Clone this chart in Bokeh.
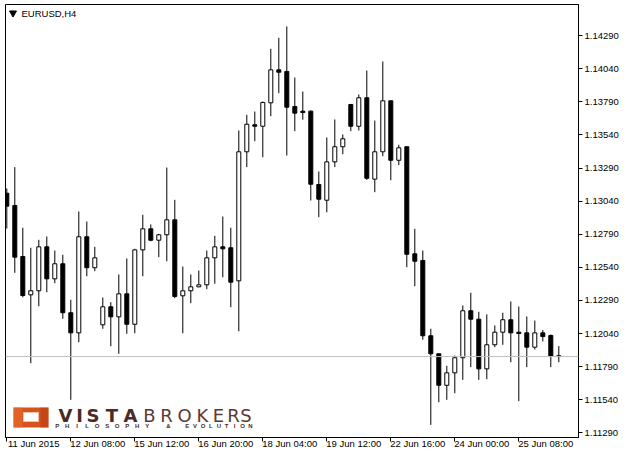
from bokeh.plotting import figure
from bokeh.models import Range1d, FixedTicker, Span, Label, PrintfTickFormatter, CustomJSTickFormatter
from bokeh.embed import file_html
from bokeh.resources import INLINE
from bokeh.core.properties import value

symbol = "EURUSD,H4"
time_label_bars = [0, 8, 16, 24, 32, 40, 48, 56, 64]
time_labels = ["11 Jun 2015", "12 Jun 08:00", "15 Jun 12:00", "16 Jun 20:00", "18 Jun 04:00",
               "19 Jun 12:00", "22 Jun 16:00", "24 Jun 00:00", "25 Jun 08:00"]
price_ticks = [1.11290, 1.11540, 1.11790, 1.12040, 1.12290, 1.12540, 1.12790,
               1.13040, 1.13290, 1.13540, 1.13790, 1.14040, 1.14290]

opens = [1.13100, 1.13007, 1.12622, 1.12332, 1.12363, 1.12695, 1.12453, 1.12567, 1.12197, 1.12045,
         1.12771, 1.12537, 1.12106, 1.12242, 1.12166, 1.12340, 1.12110, 1.12672, 1.12831, 1.12745,
         1.12786, 1.12899, 1.12325, 1.12363, 1.12393, 1.12408, 1.12612, 1.12695, 1.12688, 1.12438,
         1.13413, 1.13617, 1.13606, 1.13783, 1.14032, 1.14020, 1.13755, 1.13720, 1.13720, 1.13166,
         1.13047, 1.13337, 1.13451, 1.13770, 1.13606, 1.13821, 1.13206, 1.13413, 1.13798, 1.13349,
         1.13451, 1.12642, 1.12592, 1.12023, 1.11887, 1.11649, 1.11743, 1.11857, 1.12212, 1.12148,
         1.11773, 1.11955, 1.12050, 1.12144, 1.12050, 1.12045, 1.11937, 1.12045, 1.12025, 1.11872]
highs = [1.13136, 1.13297, 1.12839, 1.12688, 1.12748, 1.12773, 1.12667, 1.12635, 1.12295, 1.12962,
         1.12886, 1.12695, 1.12312, 1.12277, 1.12486, 1.12607, 1.12680, 1.12937, 1.12864, 1.12793,
         1.13294, 1.13050, 1.12546, 1.12486, 1.12516, 1.12667, 1.12778, 1.12924, 1.12839, 1.13574,
         1.13692, 1.13717, 1.13793, 1.14191, 1.14274, 1.14360, 1.13974, 1.13868, 1.13725, 1.13264,
         1.13521, 1.13657, 1.13544, 1.13775, 1.13846, 1.14027, 1.13649, 1.14095, 1.13798, 1.13466,
         1.13451, 1.12831, 1.12667, 1.12076, 1.11887, 1.11796, 1.11874, 1.12252, 1.12348, 1.12204,
         1.12184, 1.12101, 1.12197, 1.12282, 1.12244, 1.12169, 1.12138, 1.12067, 1.12033, 1.11945]
lows = [1.12833, 1.12499, 1.12314, 1.11816, 1.12246, 1.12352, 1.12420, 1.12151, 1.11539, 1.11974,
        1.12473, 1.12511, 1.12076, 1.11944, 1.11887, 1.12038, 1.12042, 1.12473, 1.12737, 1.12617,
        1.12586, 1.12307, 1.12042, 1.12269, 1.12390, 1.12375, 1.12416, 1.12465, 1.12239, 1.12057,
        1.13297, 1.13493, 1.13372, 1.13682, 1.13856, 1.13385, 1.13569, 1.13655, 1.13045, 1.12919,
        1.12956, 1.13297, 1.13395, 1.13569, 1.13574, 1.13201, 1.13108, 1.13380, 1.13198, 1.13312,
        1.12541, 1.12397, 1.11993, 1.11350, 1.11521, 1.11539, 1.11589, 1.11690, 1.11786, 1.11690,
        1.11695, 1.11937, 1.11955, 1.11823, 1.11529, 1.11786, 1.11919, 1.11980, 1.11786, 1.11823]
closes = [1.13002, 1.12617, 1.12327, 1.12363, 1.12695, 1.12453, 1.12567, 1.12197, 1.12045, 1.12771,
          1.12537, 1.12612, 1.12242, 1.12166, 1.12340, 1.12110, 1.12672, 1.12831, 1.12745, 1.12786,
          1.12899, 1.12320, 1.12363, 1.12393, 1.12408, 1.12612, 1.12695, 1.12680, 1.12428, 1.13413,
          1.13621, 1.13606, 1.13785, 1.14032, 1.14014, 1.13750, 1.13705, 1.13710, 1.13168, 1.13055,
          1.13337, 1.13451, 1.13511, 1.13606, 1.13821, 1.13213, 1.13413, 1.13798, 1.13349, 1.13443,
          1.12639, 1.12586, 1.12023, 1.11887, 1.11649, 1.11743, 1.11857, 1.12212, 1.12148, 1.11773,
          1.11955, 1.12050, 1.12144, 1.12045, 1.12040, 1.11937, 1.12045, 1.12017, 1.11869, 1.11866]

bars = list(range(len(opens)))
tops = [max(o, c) for o, c in zip(opens, closes)]
bottoms = [min(o, c) for o, c in zip(opens, closes)]
fills = ["white" if c > o else "black" for o, c in zip(opens, closes)]

# view window
X0, X1 = -0.1625, 71.4625
Y0, Y1 = 1.112545, 1.145257
FL, FR, FT, FB = 5, 578, 4, 437  # frame edges in canvas pixels
BAR_PX = (FR - FL) / (X1 - X0)


def px(xp):
    return X0 + (xp - FL) * (X1 - X0) / (FR - FL)


def py(yp):
    return Y1 - (yp - FT) * (Y1 - Y0) / (FB - FT)


FONT = "Liberation Sans"

p = figure(width=624, height=458, x_range=Range1d(X0, X1), y_range=Range1d(Y0, Y1),
           y_axis_location="right", output_backend="svg", toolbar_location=None,
           min_border_left=FL, min_border_top=FT, min_border_right=624 - FR, min_border_bottom=458 - FB)
p.background_fill_color = "white"
p.border_fill_color = "white"
p.outline_line_color = "black"
p.outline_line_width = 1
p.grid.visible = False

# x axis: tick marks as minor ticks at the labelled bars, labels shifted so they start at the tick
half_label = 27.0 / BAR_PX
p.xaxis.ticker = FixedTicker(ticks=[b + half_label for b in time_label_bars], minor_ticks=time_label_bars)
p.xaxis.formatter = CustomJSTickFormatter(args=dict(labels=time_labels), code="return labels[index];")
p.xaxis.major_tick_line_color = None
p.xaxis.major_tick_out = 0
p.xaxis.major_tick_in = 0
p.xaxis.minor_tick_line_color = "black"
p.xaxis.minor_tick_out = 4
p.xaxis.minor_tick_in = 0
p.xaxis.major_label_standoff = -4
p.xaxis.major_label_text_font = FONT
p.xaxis.major_label_text_font_size = "9.5px"
p.xaxis.major_label_text_color = "black"
p.xaxis.axis_line_color = "black"

# y axis
p.yaxis.ticker = FixedTicker(ticks=price_ticks)
p.yaxis.formatter = PrintfTickFormatter(format="%.5f")
p.yaxis.major_tick_out = 4
p.yaxis.major_tick_in = 0
p.yaxis.minor_tick_line_color = None
p.yaxis.major_label_standoff = 2
p.yaxis.major_label_text_font = FONT
p.yaxis.major_label_text_font_size = "9.5px"
p.yaxis.major_label_text_color = "black"
p.yaxis.axis_line_color = "black"
p.yaxis.major_tick_line_color = "black"

# current price line
p.add_layout(Span(location=closes[-1], dimension="width", line_color="#c0c0c0", line_width=1))

# logo (decoration)
p.quad(left=px(13), right=px(48), top=py(407), bottom=py(427), fill_color="#d6531e", line_color=None)
p.quad(left=px(13), right=px(22), top=py(407), bottom=py(427), fill_color="#ea6a2c", line_color=None, fill_alpha=0.6)
p.quad(left=px(40), right=px(48), top=py(407), bottom=py(427), fill_color="#b63a14", line_color=None, fill_alpha=0.5)
p.quad(left=px(23), right=px(38), top=py(412), bottom=py(421), fill_color="white", line_color="#f2c0a8", line_width=1)
vista = list("VISTA")
vista_x = [65, 79, 92.5, 111.5, 130]
p.text(x=[px(v) for v in vista_x], y=[py(415)] * 5, text=vista, text_font=value("DejaVu Sans"),
       text_font_style="bold", text_font_size="18px", text_align="center", text_baseline="middle",
       text_color="#4a2a24")
brokers = list("BROKERS")
brokers_x = [149, 166, 184, 202, 218, 233, 245.5]
p.text(x=[px(v) for v in brokers_x], y=[py(415)] * 7, text=brokers, text_font=value("DejaVu Sans"),
       text_font_size="18px", text_align="center", text_baseline="middle", text_color="#5a3a33")
tag = list("PHILOSOPHY") + ["&"] + list("EVOLUTION")
tag_x = [56.7 + 10 * k for k in range(10)] + [168] + [186.7 + 7.9 * k for k in range(9)]
p.text(x=[px(v) for v in tag_x], y=[py(425)] * len(tag), text=tag, text_font=value(FONT),
       text_font_style="bold", text_font_size="6px", text_align="center", text_baseline="middle",
       text_color="#4a2a24")

# candles
p.segment(x0=bars, y0=lows, x1=bars, y1=highs, line_color="black", line_width=1)
p.vbar(x=bars, width=0.5, top=tops, bottom=bottoms, fill_color=fills, line_color="black", line_width=1)

# title
p.scatter(x=[px(12.5)], y=[py(12.5)], marker="inverted_triangle", size=7, fill_color="black", line_color="black")
p.add_layout(Label(x=px(21), y=py(13), text=symbol, text_font=FONT, text_font_size="9.5px",
                   text_baseline="middle", text_align="left", text_color="black"))

# current price box
p.add_layout(Label(x=X1, y=closes[-1], x_offset=2, text="%.5f" % closes[-1], text_font=FONT,
                   text_font_size="9.5px", text_baseline="middle", text_align="left", text_color="white",
                   background_fill_color="black", padding=1, level="overlay"))

open("out.html", "w").write(file_html(p, INLINE))
